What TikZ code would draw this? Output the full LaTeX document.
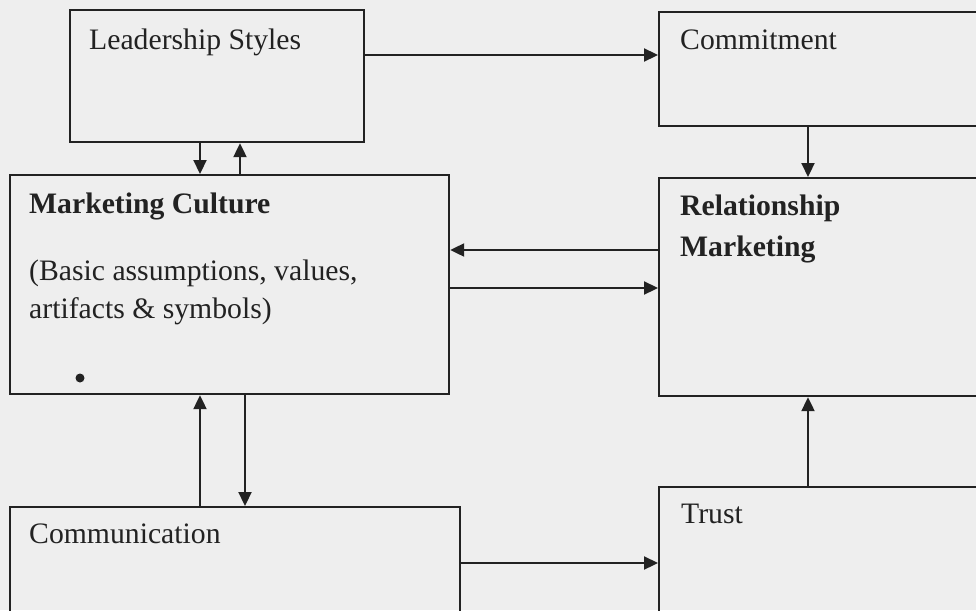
\documentclass[tikz,border=0pt]{standalone}
\usepackage{fontspec}
\setmainfont{Liberation Serif}
\usetikzlibrary{arrows.meta}

\definecolor{ink}{RGB}{34,34,34}
\definecolor{paper}{RGB}{238,238,238}

\tikzset{
  box/.style={draw=ink, line width=2.2pt, rectangle, anchor=north west, inner sep=0pt},
  txt/.style={anchor=base west, inner sep=0pt, text=ink, font=\fontsize{29.7}{36}\selectfont},
  arr/.style={draw=ink, line width=2.2pt, -{Triangle[length=14pt,width=13pt]}}
}

\begin{document}
\begin{tikzpicture}[x=1pt,y=1pt,yscale=-1,xscale=1]
	\useasboundingbox (0,0) rectangle (976,610);
	\fill [paper] (0,0) rectangle (976,610);
	\clip (0,0) rectangle (976,610);

	%Shape: Rectangle [Leadership Styles]
	\node (lead) [box, minimum width=294pt, minimum height=132pt] at (69,9) {};
	%Shape: Rectangle [Commitment]
	\node (commit) [box, minimum width=340pt, minimum height=114pt] at (658,11) {};
	%Shape: Rectangle [Marketing Culture]
	\node (cult) [box, minimum width=439pt, minimum height=219pt] at (9,174) {};
	%Shape: Rectangle [Relationship Marketing]
	\node (rel) [box, minimum width=340pt, minimum height=218pt] at (658,177) {};
	%Shape: Rectangle [Communication]
	\node (comm) [box, minimum width=450pt, minimum height=130pt] at (9,506) {};
	%Shape: Rectangle [Trust]
	\node (trust) [box, minimum width=340pt, minimum height=140pt] at (658,486) {};

	%Straight Lines
	\draw [arr] (lead.east |- 0,55) -- (commit.west |- 0,55) ;
	\draw [arr] (lead.south -| 200,0) -- (cult.north -| 200,0) ;
	\draw [arr] (cult.north -| 240,0) -- (lead.south -| 240,0) ;
	\draw [arr] (commit.south -| 808,0) -- (rel.north -| 808,0) ;
	\draw [arr] (rel.west |- 0,250) -- (cult.east |- 0,250) ;
	\draw [arr] (cult.east |- 0,288) -- (rel.west |- 0,288) ;
	\draw [arr] (cult.south -| 245,0) -- (comm.north -| 245,0) ;
	\draw [arr] (comm.north -| 200,0) -- (cult.south -| 200,0) ;
	\draw [arr] (comm.east |- 0,563) -- (trust.west |- 0,563) ;
	\draw [arr] (trust.north -| 808,0) -- (rel.south -| 808,0) ;

	%Shape: Circle
	\fill [ink] (80,378) circle (4.5) ;

	% Text Node
	\node (leadtxt) [txt] at (89,49) {Leadership Styles};
	% Text Node
	\node (committxt) [txt] at (680,50) {Commitment};
	% Text Node
	\node (culttxt) [txt, font=\fontsize{29.7}{36}\selectfont\bfseries] at (29,213) {Marketing Culture};
	% Text Node
	\node (cultsub1) [txt] at (29,280) {(Basic assumptions, values,};
	% Text Node
	\node (cultsub2) [txt] at (29,318) {artifacts \& symbols)};
	% Text Node
	\node (reltxt1) [txt, font=\fontsize{29.7}{36}\selectfont\bfseries] at (680,215) {Relationship};
	% Text Node
	\node (reltxt2) [txt, font=\fontsize{29.7}{36}\selectfont\bfseries] at (680,256) {Marketing};
	% Text Node
	\node (commtxt) [txt] at (29,543) {Communication};
	% Text Node
	\node (trusttxt) [txt] at (681,523) {Trust};

\end{tikzpicture}
\end{document}
